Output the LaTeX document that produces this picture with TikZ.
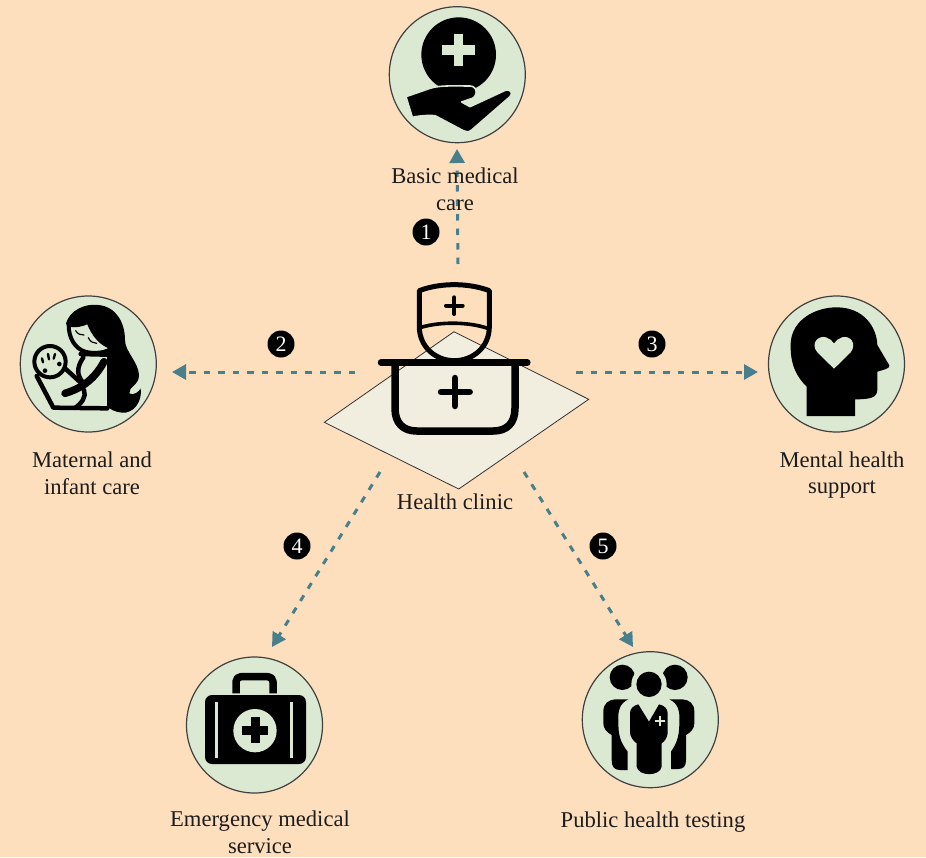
\documentclass[tikz,border=0pt]{standalone}
\usepackage{fontspec}
\setmainfont{Liberation Serif}
\usetikzlibrary{arrows.meta}
\definecolor{bgc}{HTML}{FEDFBD}
\definecolor{leaf}{HTML}{DCE9D2}
\definecolor{cream}{HTML}{F1EDDF}
\definecolor{teal}{HTML}{477F8C}
\definecolor{inkc}{HTML}{1C1C1C}
\tikzset{
  iconring/.style={circle,draw=black!75,line width=1.2pt,fill=leaf,minimum size=136pt,inner sep=0pt},
  flow/.style={draw=teal,line width=3pt,dash pattern=on 6.5pt off 8pt,-{Triangle[length=14pt,width=15pt]}},
  caption/.style={text=inkc,align=center,inner sep=0pt,font=\fontsize{22.6}{26.5}\selectfont},
  badge/.style={circle,fill=black,text=white,minimum size=27pt,inner sep=0pt,font=\fontsize{22}{22}\selectfont},
  zoomed/.style={shift={#1},scale=1/3},
  stroke/.style={draw=black,line cap=round,line join=round}
}
\begin{document}
\begin{tikzpicture}[x=1pt,y=-1pt]
\useasboundingbox (0,0) rectangle (926,857);
\fill[bgc] (0,0) rectangle (926,857);

% central diamond
\draw[draw=black!80,line width=.8pt,fill=cream] (454,331.7) -- (588.7,399.3) -- (458.7,489) -- (324.3,422.3) -- cycle;
\node[inner sep=0pt] (clinic) at (456,410) {};

% rings
\node[iconring] (basic) at (457.3,74.7) {};
\node[iconring] (maternal) at (88.3,364) {};
\node[iconring] (mental) at (836.5,364) {};
\node[iconring] (emergency) at (254.5,725) {};
\node[iconring] (testing) at (650.3,719.7) {};

% connector ends
\coordinate (s1) at (458,264); \coordinate (e1) at (457,149);
\coordinate (s2) at (355,372); \coordinate (e2) at (172,372);
\coordinate (s3) at (576,372); \coordinate (e3) at (758,372);
\coordinate (s4) at (380,472); \coordinate (e4) at (272,647);
\coordinate (s5) at (524,472); \coordinate (e5) at (633,647);
\draw[flow] (s1) -- (e1);
\draw[flow] (s2) -- (e2);
\draw[flow] (s3) -- (e3);
\draw[flow] (s4) -- (e4);
\draw[flow] (s5) -- (e5);

% nurse / clinic icon
\begin{scope}[zoomed={(320,270)}]
  \draw[stroke,line width=5pt] (298,62) .. controls (360,38) and (445,38) .. (508,62)
     -- (508,170) .. controls (508,230) and (460,272) .. (403,272)
     .. controls (346,272) and (298,230) .. (298,170) -- cycle;
  \draw[stroke,line width=3.6pt] (303,172) .. controls (360,155) and (445,155) .. (503,175);
  \draw[stroke,line width=4pt] (403,82) -- (403,132) (378,107) -- (428,107);
  \draw[stroke,line width=7.5pt,line cap=butt] (225,280) -- (225,415) .. controls (225,460) and (250,483) .. (290,483)
     -- (520,483) .. controls (560,483) and (585,460) .. (585,415) -- (585,280);
  \draw[stroke,line width=6.5pt] (183,278) -- (622,278);
  \draw[stroke,line width=6.5pt] (405,324) -- (405,408) (363,366) -- (449,366);
\end{scope}

% hand with cross
\begin{scope}[zoomed={(380,0)}]
  \fill[black] (236,164) circle[radius=112];
  \fill[leaf] (221,102) rectangle (250,198);
  \fill[leaf] (187,135) rectangle (285,165);
  \path[fill=black,draw=leaf,line width=1.6pt,line join=round]
    (78,290) -- (150,265) .. controls (180,255) and (230,258) .. (270,258)
    .. controls (295,258) and (295,295) .. (268,298) -- (245,306) -- (270,320)
    -- (378,270) .. controls (392,268) and (400,280) .. (390,290)
    -- (275,390) .. controls (265,398) and (258,396) .. (250,392)
    -- (165,347) .. controls (140,345) and (115,348) .. (97,352) -- cycle;
\end{scope}

% mother and baby
\begin{scope}[zoomed={(10,290)}]
  \fill[black] (168,100) .. controls (180,60) and (225,40) .. (265,45)
    .. controls (320,50) and (345,100) .. (345,150)
    .. controls (345,185) and (385,215) .. (387,255)
    .. controls (388,285) and (355,290) .. (358,310)
    .. controls (370,318) and (388,305) .. (392,295)
    .. controls (398,335) and (370,372) .. (335,368)
    .. controls (315,365) and (300,360) .. (290,345)
    -- (285,190) -- (215,190) -- cycle;
  \draw[stroke,line width=4pt,fill=leaf] (176,104) .. controls (195,108) and (215,105) .. (235,95)
    .. controls (250,135) and (275,165) .. (308,172)
    .. controls (290,190) and (250,192) .. (225,185)
    .. controls (195,175) and (176,145) .. (176,104) -- cycle;
  \draw[line width=1.2pt,line cap=round] (197,122) .. controls (203,132) and (212,136) .. (222,135);
  \draw[line width=1.2pt,line cap=round] (235,143) .. controls (240,155) and (250,160) .. (260,160);
  \fill[leaf] (218,195) -- (291,195) -- (291,345) -- (150,345) -- cycle;
  \draw[stroke,line width=4.5pt] (212,192) -- (290,194);
\end{scope}
\begin{scope}[zoomed={(20,340)}]
  \draw[stroke,line width=4.5pt] (50,108) -- (100,203) -- (262,205);
  \draw[stroke,line width=4.5pt] (135,85) -- (190,135);
  \draw[stroke,line width=4.5pt] (190,52) .. controls (168,85) and (172,105) .. (187,125);
  \draw[stroke,line width=4.5pt] (192,150) .. controls (200,170) and (185,190) .. (165,204);
  \draw[stroke,line width=7.5pt] (135,160) .. controls (175,148) and (220,125) .. (252,65);
  \draw[stroke,line width=4pt,fill=leaf] (90,65) circle[radius=47];
  \draw[stroke,line width=2.4pt] (66,55) -- (69,67) (84,42) -- (87,58) (105,42) -- (101,56);
  \fill[black] (118,72) circle[radius=7];
  \fill[black] (75,92) circle[radius=7];
\end{scope}

% head with heart
\begin{scope}[zoomed={(760,290)}]
  \fill[black] (140,378) -- (140,290) .. controls (110,260) and (90,225) .. (92,160)
    .. controls (95,90) and (165,52) .. (230,52)
    .. controls (310,52) and (350,110) .. (352,165)
    -- (388,226) .. controls (390,235) and (375,238) .. (352,245)
    -- (352,300) .. controls (350,322) and (335,328) .. (285,328)
    -- (285,378) -- cycle;
  \fill[leaf] (222,236) -- (172,187) .. controls (150,160) and (175,135) .. (198,142)
    .. controls (208,145) and (216,152) .. (222,160)
    .. controls (228,152) and (236,145) .. (246,142)
    .. controls (270,135) and (292,160) .. (272,187) -- cycle;
\end{scope}

% medical case
\begin{scope}[zoomed={(180,650)}]
  \draw[black,line width=7.5pt,line join=round,rounded corners=5pt] (168,130) -- (168,80) -- (279,80) -- (279,130);
  \fill[black,rounded corners=7pt] (75,135) rectangle (378,342);
  \fill[leaf] (106,155) rectangle (115,325);
  \fill[leaf] (331,155) rectangle (340,325);
  \fill[leaf] (225,242) circle[radius=65];
  \fill[black] (212,200) rectangle (239,280);
  \fill[black] (186,227) rectangle (264,254);
\end{scope}

% group
\begin{scope}[zoomed={(575,645)}]
  \fill[black] (142,97) circle[radius=38];
  \fill[black] (300,97) circle[radius=38];
  \fill[leaf] (222,118) circle[radius=53];
  \fill[black] (222,118) circle[radius=38];
  \fill[black] (85,200) .. controls (85,175) and (100,165) .. (120,163) -- (160,163)
     .. controls (135,175) and (128,195) .. (130,230)
     .. controls (130,270) and (135,290) .. (158,320) -- (158,375) -- (135,375)
     .. controls (118,375) and (110,365) .. (110,345) -- (110,270)
     .. controls (95,262) and (85,250) .. (85,235) -- cycle;
  \fill[black] (358,200) .. controls (358,175) and (343,165) .. (323,163) -- (283,163)
     .. controls (308,175) and (315,195) .. (313,230)
     .. controls (313,270) and (308,290) .. (288,320) -- (288,372) -- (308,372)
     .. controls (325,372) and (333,365) .. (333,345) -- (333,270)
     .. controls (348,262) and (358,250) .. (358,235) -- cycle;
  \fill[black] (165,205) .. controls (165,190) and (175,182) .. (190,178)
     -- (222,230) -- (252,178) .. controls (268,182) and (278,190) .. (278,205)
     -- (278,265) .. controls (276,280) and (268,290) .. (260,295)
     -- (260,365) .. controls (255,395) and (190,395) .. (185,365)
     -- (185,295) .. controls (175,288) and (165,275) .. (165,262) -- cycle;
  \draw[leaf,line width=2.8pt] (255,212) -- (255,244) (239,228) -- (271,228);
\end{scope}

% badges
\node[badge] (n1) at (426,232) {1};
\node[badge] (n2) at (281,344) {2};
\node[badge] (n3) at (652,344) {3};
\node[badge] (n4) at (297,546) {4};
\node[badge] (n5) at (603,546) {5};

% captions
\node[caption] (t1) at (455,189.5) {Basic medical\\care};
\node[caption] (t2) at (92,473.5) {Maternal and\\infant care};
\node[caption] (t3) at (842,475) {Mental health\\support};
\node[caption] (t0) at (455,502) {Health clinic};
\node[caption] (t4) at (260,832.5) {Emergency medical\\service};
\node[caption] (t5) at (653,822.5) {Public health testing};
\end{tikzpicture}
\end{document}
